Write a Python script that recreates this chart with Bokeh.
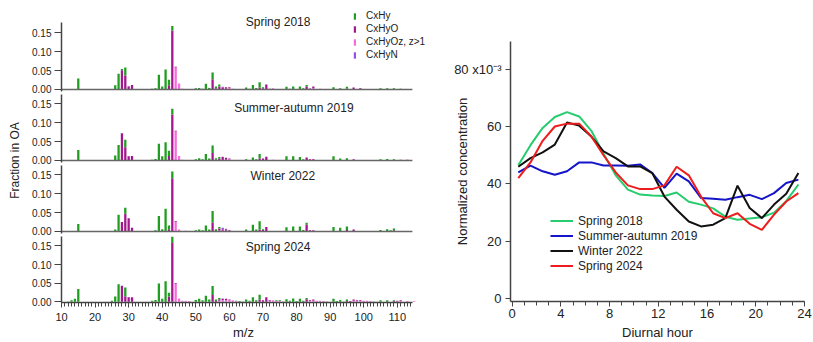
import math
from bokeh.plotting import figure
from bokeh.layouts import row, column
from bokeh.models import (ColumnDataSource, Range1d, Legend, LegendItem, Label,
                          FixedTicker, SingleIntervalTicker, NumeralTickFormatter)
from bokeh.embed import file_html
from bokeh.resources import INLINE
from bokeh.core.properties import value

FONT = "Liberation Sans"

# ---------------- data: mass spectra (fraction in OA) ----------------
FAMILIES = ["CxHy", "CxHyO", "CxHyOz, z>1", "CxHyN"]
FAM_COLORS = ["#1f9e1f", "#a3168e", "#f66bdd", "#9b4de6"]
PANEL_TITLES = ["Spring 2018", "Summer-autumn 2019", "Winter 2022", "Spring 2024"]
MZ_AXIS = (10, 114.5)

spring2018_cxhy = {13: 0.001, 15: 0.029, 26: 0.011, 27: 0.042, 28: 0.003, 29: 0.021, 37: 0.002, 38: 0.003,
                   39: 0.039, 40: 0.008, 41: 0.053, 42: 0.015, 43: 0.012, 50: 0.003, 51: 0.004, 52: 0.002,
                   53: 0.015, 54: 0.004, 55: 0.018, 56: 0.005, 57: 0.005, 65: 0.005, 66: 0.002, 67: 0.012,
                   68: 0.004, 69: 0.014, 70: 0.003, 77: 0.007, 78: 0.002, 79: 0.008, 81: 0.008, 82: 0.003,
                   83: 0.004, 91: 0.006, 93: 0.003, 95: 0.005, 105: 0.003, 107: 0.003, 109: 0.003}
spring2018_cxhyo = {28: 0.051, 29: 0.037, 30: 0.008, 31: 0.012, 42: 0.011, 43: 0.156, 44: 0.002, 55: 0.027,
                    56: 0.003, 57: 0.008, 58: 0.006, 59: 0.004, 60: 0.002, 69: 0.005, 70: 0.003, 71: 0.013,
                    72: 0.002, 83: 0.008, 84: 0.002, 85: 0.005, 95: 0.002, 97: 0.005, 99: 0.002, 111: 0.002}
spring2018_cxhyoz = {44: 0.058, 45: 0.016, 46: 0.002, 47: 0.001, 59: 0.002, 60: 0.004, 61: 0.002, 73: 0.003,
                     74: 0.001, 85: 0.003, 87: 0.002, 89: 0.001, 99: 0.002, 101: 0.001, 113: 0.001}
spring2018_cxhyn = {30: 0.001, 58: 0.001, 84: 0.001}

summer2019_cxhy = {15: 0.028, 26: 0.013, 27: 0.041, 29: 0.020, 37: 0.002, 38: 0.004, 39: 0.044, 40: 0.011,
                   41: 0.048, 42: 0.014, 43: 0.015, 50: 0.003, 51: 0.006, 52: 0.003, 53: 0.017, 54: 0.005,
                   55: 0.020, 56: 0.004, 57: 0.004, 65: 0.003, 67: 0.008, 68: 0.003, 69: 0.012, 77: 0.011,
                   79: 0.011, 81: 0.009, 82: 0.003, 91: 0.011, 93: 0.005, 95: 0.005, 105: 0.003, 107: 0.004,
                   109: 0.003}
summer2019_cxhyo = {28: 0.072, 29: 0.035, 30: 0.011, 31: 0.012, 42: 0.012, 43: 0.122, 44: 0.002, 55: 0.020,
                    56: 0.002, 57: 0.005, 58: 0.009, 59: 0.005, 60: 0.002, 69: 0.005, 70: 0.005, 71: 0.010,
                    83: 0.008, 84: 0.003, 85: 0.002, 95: 0.001, 97: 0.003, 111: 0.002, 113: 0.002}
summer2019_cxhyoz = {44: 0.077, 45: 0.012, 46: 0.002, 59: 0.002, 60: 0.003, 61: 0.001, 73: 0.002, 85: 0.002,
                     87: 0.001}
summer2019_cxhyn = {30: 0.001, 58: 0.001}

winter2022_cxhy = {15: 0.020, 26: 0.005, 27: 0.044, 29: 0.016, 38: 0.003, 39: 0.041, 40: 0.006, 41: 0.060,
                   42: 0.010, 43: 0.018, 50: 0.003, 51: 0.005, 52: 0.003, 53: 0.016, 54: 0.005, 55: 0.031,
                   56: 0.006, 57: 0.004, 65: 0.005, 67: 0.018, 68: 0.005, 69: 0.022, 70: 0.002, 77: 0.011,
                   79: 0.013, 81: 0.013, 82: 0.004, 83: 0.005, 91: 0.012, 93: 0.010, 95: 0.009, 105: 0.004,
                   107: 0.006, 108: 0.003, 109: 0.005}
winter2022_cxhyo = {28: 0.025, 29: 0.047, 30: 0.035, 31: 0.010, 42: 0.006, 43: 0.141, 44: 0.002, 55: 0.023,
                    57: 0.006, 58: 0.004, 59: 0.004, 60: 0.002, 69: 0.005, 70: 0.004, 71: 0.012, 83: 0.018,
                    84: 0.003, 85: 0.002, 95: 0.004, 97: 0.005, 109: 0.003}
winter2022_cxhyoz = {44: 0.026, 45: 0.005, 47: 0.002, 57: 0.002, 58: 0.002, 59: 0.002, 60: 0.001, 73: 0.001,
                     85: 0.001}
winter2022_cxhyn = {30: 0.001, 58: 0.004, 59: 0.001}

spring2024_cxhy = {12: 0.001, 13: 0.004, 14: 0.008, 15: 0.034, 25: 0.003, 26: 0.014, 27: 0.047, 29: 0.023,
                   37: 0.003, 38: 0.005, 39: 0.049, 40: 0.008, 41: 0.055, 42: 0.010, 43: 0.017, 50: 0.005,
                   51: 0.008, 52: 0.004, 53: 0.016, 54: 0.006, 55: 0.024, 56: 0.004, 57: 0.003, 62: 0.001,
                   63: 0.002, 64: 0.001, 65: 0.006, 66: 0.003, 67: 0.012, 68: 0.004, 69: 0.013, 74: 0.002,
                   75: 0.002, 76: 0.001, 77: 0.007, 78: 0.003, 79: 0.009, 80: 0.002, 81: 0.008, 82: 0.003,
                   83: 0.003, 89: 0.001, 91: 0.008, 92: 0.002, 93: 0.005, 94: 0.001, 95: 0.004, 103: 0.001,
                   105: 0.004, 107: 0.004, 109: 0.002}
spring2024_cxhyo = {28: 0.043, 29: 0.015, 30: 0.012, 31: 0.012, 42: 0.014, 43: 0.158, 44: 0.002, 55: 0.018,
                    56: 0.002, 57: 0.004, 58: 0.004, 59: 0.004, 60: 0.002, 69: 0.006, 70: 0.004, 71: 0.012,
                    72: 0.002, 83: 0.007, 84: 0.002, 85: 0.003, 95: 0.002, 96: 0.002, 97: 0.003, 98: 0.002,
                    99: 0.002, 109: 0.002, 110: 0.002, 111: 0.002}
spring2024_cxhyoz = {44: 0.048, 45: 0.009, 46: 0.003, 47: 0.003, 48: 0.002, 57: 0.003, 58: 0.004, 59: 0.004,
                     60: 0.004, 61: 0.004, 62: 0.002, 72: 0.002, 73: 0.004, 74: 0.002, 75: 0.002, 84: 0.002,
                     85: 0.003, 86: 0.003, 87: 0.003, 88: 0.002, 97: 0.003, 98: 0.002, 99: 0.003, 100: 0.003,
                     101: 0.003, 102: 0.002, 110: 0.001, 111: 0.002, 113: 0.002, 115: 0.002}
spring2024_cxhyn = {30: 0.001, 58: 0.001}

SPECTRA = [
    (spring2018_cxhy, spring2018_cxhyo, spring2018_cxhyoz, spring2018_cxhyn),
    (summer2019_cxhy, summer2019_cxhyo, summer2019_cxhyoz, summer2019_cxhyn),
    (winter2022_cxhy, winter2022_cxhyo, winter2022_cxhyoz, winter2022_cxhyn),
    (spring2024_cxhy, spring2024_cxhyo, spring2024_cxhyoz, spring2024_cxhyn),
]

# ---------------- data: diurnal profiles (x10^-3) ----------------
HOURS = [0.5, 1.5, 2.5, 3.5, 4.5, 5.5, 6.5, 7.5, 8.5, 9.5, 10.5, 11.5,
         12.5, 13.5, 14.5, 15.5, 16.5, 17.5, 18.5, 19.5, 20.5, 21.5, 22.5, 23.5]
SERIES_NAMES = ["Spring 2018", "Summer-autumn 2019", "Winter 2022", "Spring 2024"]
SERIES_COLORS = ["#27cc6e", "#1414c8", "#111111", "#ee1c1c"]
diurnal_spring2018 = [46.5, 53.5, 59.5, 63.3, 65.0, 63.5, 58.5, 50.5, 43.0, 38.0, 36.3, 36.0,
                      35.8, 37.0, 33.8, 32.8, 31.5, 28.6, 27.5, 28.0, 28.4, 30.0, 34.0, 39.8]
diurnal_summer2019 = [44.0, 46.4, 44.4, 43.2, 44.4, 47.5, 47.5, 46.4, 46.4, 46.3, 46.8, 43.8,
                      38.6, 43.6, 40.9, 35.1, 34.8, 34.5, 35.4, 36.2, 34.7, 36.8, 40.3, 41.5]
diurnal_winter2022 = [46.0, 49.0, 51.0, 53.7, 61.4, 60.3, 56.5, 51.3, 49.0, 46.1, 46.1, 43.8,
                      35.6, 31.0, 26.9, 25.2, 25.8, 28.1, 39.4, 31.6, 28.1, 32.8, 36.6, 43.8]
diurnal_spring2024 = [42.0, 47.5, 55.0, 60.0, 61.0, 61.0, 56.5, 50.0, 44.0, 39.5, 38.2, 38.2,
                      39.5, 46.0, 43.0, 35.6, 29.8, 28.1, 29.8, 26.1, 24.0, 29.3, 33.9, 36.8]
DIURNAL = [diurnal_spring2018, diurnal_summer2019, diurnal_winter2022, diurnal_spring2024]

# ---------------- layout constants ----------------
AXIS_COLOR = "#444444"
TEXT_COLOR = "#222222"
TITLE_POS = [(74.5, 0.178), (79.2, 0.1376), (75.9, 0.146), (74.5, 0.146)]
PANEL_H = [94, 71, 71, 106]
PANEL_TOP = [6, 0, 0, 0]
PANEL_BOTTOM = [0, 0, 0, 39]
PANEL_YR = [(-0.01323, 0.2196), (-0.01323, 0.1746), (-0.01323, 0.1746), (-0.002, 0.1753)]

label_fig = figure(width=21, height=342, x_range=Range1d(0, 21), y_range=Range1d(0, 342),
                   output_backend="svg", toolbar_location=None, min_border=0,
                   x_axis_location=None, y_axis_location=None)
label_fig.outline_line_color = None
label_fig.grid.visible = False
label_fig.text(x=[14], y=[185.5], text=["Fraction in OA"], angle=math.pi / 2,
               text_align="center", text_baseline="middle", text_font=value(FONT),
               text_font_size="12px", text_color=TEXT_COLOR)

panels = []
for k in range(4):
    hy, o, oz, n = SPECTRA[k]
    mz = sorted(set(hy) | set(o) | set(oz) | set(n))
    src = ColumnDataSource(dict(mz=mz,
                                hy=[hy.get(m, 0.0) for m in mz],
                                o=[o.get(m, 0.0) for m in mz],
                                oz=[oz.get(m, 0.0) for m in mz],
                                n=[n.get(m, 0.0) for m in mz]))
    last = (k == 3)
    p = figure(width=406, height=PANEL_H[k], x_range=Range1d(10, 118.4), y_range=Range1d(*PANEL_YR[k]),
               output_backend="svg", toolbar_location=None,
               x_axis_location="below" if last else None,
               min_border_left=40, min_border_right=2,
               min_border_top=PANEL_TOP[k], min_border_bottom=PANEL_BOTTOM[k])
    p.outline_line_color = None
    p.grid.visible = False
    p.background_fill_color = None
    p.border_fill_color = None
    rends = p.vbar_stack(["oz", "o", "n", "hy"], x="mz", width=0.68, source=src,
                         color=[FAM_COLORS[2], FAM_COLORS[1], FAM_COLORS[3], FAM_COLORS[0]],
                         line_width=0)
    if not last:
        p.segment(x0=[MZ_AXIS[0]], y0=[0], x1=[MZ_AXIS[1]], y1=[0], line_color="#666666", line_width=1.3)
    yax = p.yaxis[0]
    yax.bounds = (-0.004, 0.178)
    yax.ticker = FixedTicker(ticks=[0, 0.05, 0.10, 0.15])
    yax.formatter = NumeralTickFormatter(format="0.00")
    yax.axis_line_color = AXIS_COLOR
    yax.axis_line_width = 1.5
    yax.major_tick_line_color = AXIS_COLOR
    yax.major_tick_out = 7
    yax.major_tick_in = 0
    yax.minor_tick_line_color = None
    yax.major_label_standoff = 3
    yax.major_label_text_font = FONT
    yax.major_label_text_font_size = "10px"
    yax.major_label_text_color = TEXT_COLOR
    if last:
        xax = p.xaxis[0]
        xax.bounds = MZ_AXIS
        xax.ticker = SingleIntervalTicker(interval=10, num_minor_ticks=10)
        xax.axis_line_color = AXIS_COLOR
        xax.axis_line_width = 1.5
        xax.major_tick_line_color = AXIS_COLOR
        xax.minor_tick_line_color = AXIS_COLOR
        xax.major_tick_out = 5
        xax.major_tick_in = 0
        xax.minor_tick_out = 4
        xax.minor_tick_in = 0
        xax.major_label_standoff = 5
        xax.major_label_text_font = FONT
        xax.major_label_text_font_size = "11px"
        xax.major_label_text_color = TEXT_COLOR
        xax.axis_label = "m/z"
        xax.axis_label_standoff = 1
        xax.axis_label_text_font = FONT
        xax.axis_label_text_font_size = "13px"
        xax.axis_label_text_font_style = "normal"
        xax.axis_label_text_color = TEXT_COLOR
    tx, ty = TITLE_POS[k]
    p.add_layout(Label(x=tx, y=ty, text=PANEL_TITLES[k], text_align="center", text_baseline="middle",
                       text_font=FONT, text_font_size="12px", text_color=TEXT_COLOR))
    if k == 0:
        r_oz, r_o, r_n, r_hy = rends
        leg = Legend(items=[LegendItem(label=FAMILIES[0], renderers=[r_hy]),
                            LegendItem(label=FAMILIES[1], renderers=[r_o]),
                            LegendItem(label=FAMILIES[2], renderers=[r_oz]),
                            LegendItem(label=FAMILIES[3], renderers=[r_n])],
                     location=(292, 33), orientation="vertical", padding=0, margin=0, spacing=0,
                     glyph_width=3, glyph_height=8, label_height=13, label_standoff=10,
                     label_text_font=FONT, label_text_font_size="10px", label_text_color=TEXT_COLOR,
                     background_fill_alpha=0, border_line_color=None)
        p.add_layout(leg)
    panels.append(p)

left_col = column(*panels, spacing=0)

# ---------------- right: diurnal profile ----------------
pr = figure(width=385, height=342, x_range=Range1d(-0.14, 24.0), y_range=Range1d(-0.94, 89.6),
            output_backend="svg", toolbar_location=None,
            min_border_left=83, min_border_right=8, min_border_top=41, min_border_bottom=41)
pr.outline_line_color = None
pr.grid.visible = False
line_rends = []
for name, col, ys in zip(SERIES_NAMES, SERIES_COLORS, DIURNAL):
    line_rends.append(pr.line(HOURS, ys, line_color=col, line_width=2))

xa = pr.xaxis[0]
xa.ticker = SingleIntervalTicker(interval=4, num_minor_ticks=4)
xa.axis_line_color = AXIS_COLOR
xa.axis_line_width = 1.5
xa.major_tick_line_color = AXIS_COLOR
xa.minor_tick_line_color = AXIS_COLOR
xa.major_tick_out = 5
xa.major_tick_in = 0
xa.minor_tick_out = 4
xa.minor_tick_in = 0
xa.major_label_standoff = 2
xa.major_label_text_font = FONT
xa.major_label_text_font_size = "13px"
xa.major_label_text_color = TEXT_COLOR
xa.axis_label = "Diurnal hour"
xa.axis_label_standoff = 4
xa.axis_label_text_font = FONT
xa.axis_label_text_font_size = "13px"
xa.axis_label_text_font_style = "normal"
xa.axis_label_text_color = TEXT_COLOR

ya = pr.yaxis[0]
ya.ticker = FixedTicker(ticks=[0, 20, 40, 60, 80])
ya.major_label_overrides = {80: "80 x10\u207b\u00b3"}
ya.axis_line_color = AXIS_COLOR
ya.axis_line_width = 1.5
ya.major_tick_line_color = AXIS_COLOR
ya.major_tick_out = 5
ya.major_tick_in = 0
ya.minor_tick_line_color = None
ya.major_label_standoff = 4
ya.major_label_text_font = FONT
ya.major_label_text_font_size = "13px"
ya.major_label_text_color = TEXT_COLOR
ya.axis_label = "Normalized concentration"
ya.axis_label_standoff = -19
ya.axis_label_text_font = FONT
ya.axis_label_text_font_size = "13px"
ya.axis_label_text_font_style = "normal"
ya.axis_label_text_color = TEXT_COLOR

leg2 = Legend(items=[LegendItem(label=nm, renderers=[r]) for nm, r in zip(SERIES_NAMES, line_rends)],
              location=(40, 28), orientation="vertical", padding=0, margin=0, spacing=0,
              glyph_width=23, glyph_height=15, label_height=15, label_standoff=5,
              label_text_font=FONT, label_text_font_size="12px", label_text_color=TEXT_COLOR,
              background_fill_alpha=0, border_line_color=None)
pr.add_layout(leg2)

layout = row(label_fig, left_col, pr, spacing=0)
open("out.html", "w").write(file_html(layout, INLINE))
